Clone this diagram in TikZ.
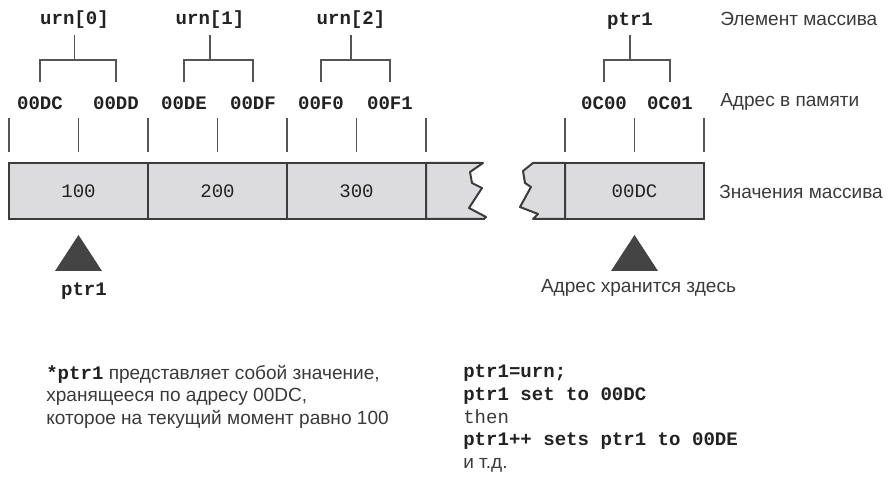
\documentclass[tikz,border=0pt]{standalone}
\usepackage{fontspec}
\setmainfont{Liberation Sans}
\setmonofont{Liberation Mono}
\usetikzlibrary{positioning,calc}
\definecolor{CellFill}{HTML}{DCDCDE}
\definecolor{CellLine}{HTML}{3C3C3C}
\definecolor{TickLine}{HTML}{555555}
\definecolor{TagText}{HTML}{222222}
\definecolor{NoteText}{HTML}{3A3A3A}
\definecolor{Marker}{HTML}{444444}
\newcommand{\codesize}{\fontsize{14.3}{16.9}\selectfont}

\begin{document}
\begin{tikzpicture}[x=0.75pt,y=-0.75pt]
    \tikzset{cell/.style={draw=CellLine,fill=CellFill,line width=1.5pt,outer sep=0pt,inner sep=0pt,minimum width=104.25pt,minimum height=42pt,font=\codesize\ttfamily,text=TagText},
      edge/.style={draw=CellLine,fill=CellFill,line width=1.5pt,line join=round},
      addr/.style={inner sep=0pt,font=\codesize\ttfamily\bfseries,text=TagText},
      note/.style={inner sep=0pt,font=\codesize,text=NoteText},
      tick/.style={draw=TickLine,line width=0.9pt}}
    \useasboundingbox (0,0) rectangle (890,477);
    % array cells
    \node[cell] (c0) at (78.5,191) {100};
    \node[cell,right=0pt of c0] (c1) {200};
    \node[cell,right=0pt of c1] (c2) {300};
    \node[cell] (c4) at (634.5,191) {00DC};
    \draw[edge] (c2.north east) -- (483,163) -- (470,172) -- (472,183) -- (482,188) -- (469,208) -- (486,217) -- (484,219) -- (c2.south east) -- cycle;
    \draw[edge] (c4.north west) -- (533,163) -- (523,171) -- (525,183) -- (531,187) -- (520,207) -- (538,214) -- (533,219) -- (c4.south west) -- cycle;
    % byte marks above the cells
    \foreach \a in {c0.north west,c0.north,c1.north west,c1.north,c2.north west,c2.north,c2.north east,c4.north west,c4.north,c4.north east}
      \draw[tick] ($(\a)+(0,-11)$) -- ++(0,-34);
    % addresses
    \node[addr] (a0) at (40,103) {00DC};
    \node[addr] (a1) at (116,103) {00DD};
    \node[addr] (a2) at (184,103) {00DE};
    \node[addr] (a3) at (253,103) {00DF};
    \node[addr] (a4) at (321,103) {00F0};
    \node[addr] (a5) at (390,103) {00F1};
    \node[addr] (a6) at (604,103) {0C00};
    \node[addr] (a7) at (670,103) {0C01};
    % elements and their brackets
    \node[addr] (e0) at (74.5,20) {urn[0]};
    \node[addr] (e1) at (210,20) {urn[1]};
    \node[addr] (e2) at (351,20) {urn[2]};
    \node[addr] (e3) at (630,21) {ptr1};
    \draw[tick] ($(e0)+(0,15)$) -- ++(0,25);
    \draw[tick] ($(a0)+(0,-21)$) |- ($(e0)+(0,40)$) -| ($(a1)+(0,-21)$);
    \draw[tick] ($(e1)+(0,15)$) -- ++(0,25);
    \draw[tick] ($(a2)+(0,-21)$) |- ($(e1)+(0,40)$) -| ($(a3)+(0,-21)$);
    \draw[tick] ($(e2)+(0,15)$) -- ++(0,25);
    \draw[tick] ($(a4)+(0,-21)$) |- ($(e2)+(0,40)$) -| ($(a5)+(0,-21)$);
    \draw[tick] ($(e3)+(0,14)$) -- ++(0,25);
    \draw[tick] ($(a6)+(0,-21)$) |- ($(e3)+(0,39)$) -| ($(a7)+(0,-21)$);
    % row captions
    \node[note,anchor=west] (tElem) at (720,19) {Элемент массива};
    \node[note,anchor=west] (tAddr) at (720,102) {Адрес в памяти};
    \node[note,anchor=west] (tVal) at (719,192) {Значения массива};
    % pointer markers
    \coordinate (m0) at ($(c0.south)+(0,16)$);
    \coordinate (m1) at ($(c4.south)+(0,16)$);
    \fill[Marker] (m0) -- ++(-23.5,36) -- ++(47,0) -- cycle;
    \fill[Marker] (m1) -- ++(-23.5,36) -- ++(47,0) -- cycle;
    \node[addr] (p0) at (84,291) {ptr1};
    \node[note] (p1) at (638.5,288) {Адрес хранится здесь};
    % explanations
    \node[note,anchor=north west,align=left] (n0) at (46,365) {{\ttfamily\bfseries\color{TagText}*ptr1} представляет собой значение,\\хранящееся по адресу 00DC,\\которое на текущий момент равно 100};
    \node[addr,anchor=north west,align=left] (n1) at (463,365) {ptr1=urn;\\ptr1 set to 00DC\\{\mdseries\color{NoteText}then}\\ptr1++ sets ptr1 to 00DE\\{\rmfamily\mdseries\color{NoteText}и т.д.}};
\end{tikzpicture}
\end{document}
